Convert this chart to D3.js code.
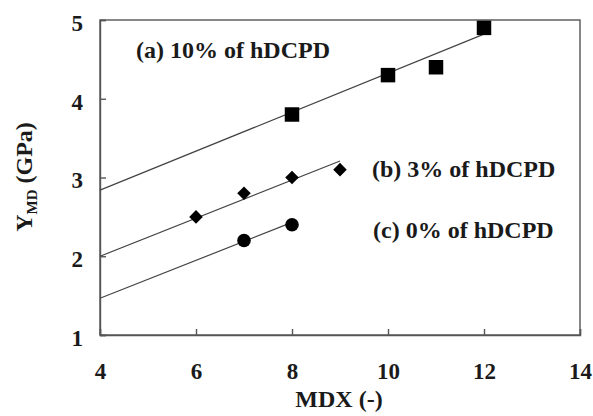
<!DOCTYPE html>
<html>
<head>
<meta charset="utf-8">
<script src="https://cdn.jsdelivr.net/npm/d3@7"></script>
<style>
  html, body { margin: 0; padding: 0; background: #fff; }
  svg text { font-family: "Liberation Serif", "Times New Roman", serif; font-weight: bold; fill: #1a1a1a; }
</style>
</head>
<body>
<svg id="chart" width="593" height="416"></svg>
<script>
// Series data: MDX vs machine-direction modulus (GPa)
const mdxA = [8, 10, 11, 12];
const ymdA = [3.8, 4.3, 4.4, 4.9];
const mdxB = [6, 7, 8, 9];
const ymdB = [2.5, 2.8, 3.0, 3.1];
const mdxC = [7, 8];
const ymdC = [2.2, 2.4];

// Trend lines: [x0, y0, x1, y1]
const trendA = [4, 2.84, 12, 4.82];
const trendB = [4, 2.0, 9, 3.21];
const trendC = [4, 1.466, 8, 2.43];

const labelA = "(a) 10% of hDCPD";
const labelB = "(b) 3% of hDCPD";
const labelC = "(c) 0% of hDCPD";

const xTicks = [4, 6, 8, 10, 12, 14];
const yTicks = [1, 2, 3, 4, 5];

const svg = d3.select("#chart");
const plotL = 100, plotR = 580, plotT = 20, plotB = 335;

const x = d3.scaleLinear().domain([4, 14]).range([plotL, plotR]);
const y = d3.scaleLinear().domain([1, 5]).range([plotB, plotT]);

const axisColor = "#555";

// Frame
svg.append("rect")
  .attr("x", plotL).attr("y", plotT)
  .attr("width", plotR - plotL).attr("height", plotB - plotT)
  .attr("fill", "none").attr("stroke", axisColor).attr("stroke-width", 1.4);

// Axes with inward ticks
const xAxis = svg.append("g").attr("transform", `translate(0,${plotB})`)
  .call(d3.axisBottom(x).tickValues(xTicks).tickSize(-6).tickPadding(28).tickFormat(d3.format("d")));
const yAxis = svg.append("g").attr("transform", `translate(${plotL},0)`)
  .call(d3.axisLeft(y).tickValues(yTicks).tickSize(-6).tickPadding(17).tickFormat(d3.format("d")));

[xAxis, yAxis].forEach(g => {
  g.select(".domain").attr("stroke", axisColor).attr("stroke-width", 1.4);
  g.selectAll(".tick line").attr("stroke", axisColor).attr("stroke-width", 1.4);
  g.selectAll(".tick text")
    .attr("font-family", "Liberation Serif, Times New Roman, serif")
    .attr("font-weight", "bold").attr("font-size", 23).attr("fill", "#1a1a1a");
});
yAxis.selectAll(".tick text").attr("dy", "0.45em");

// Trend lines
const lineGroup = svg.append("g");
[trendA, trendB, trendC].forEach(t => {
  lineGroup.append("line")
    .attr("x1", x(t[0])).attr("y1", y(t[1]))
    .attr("x2", x(t[2])).attr("y2", y(t[3]))
    .attr("stroke", "#444").attr("stroke-width", 1.2);
});

// Markers
const sq = d3.symbol().type(d3.symbolSquare).size(210);
const dia = d3.symbol().type(d3.symbolSquare).size(92);
const circ = d3.symbol().type(d3.symbolCircle).size(145);

function drawSeries(xs, ys, sym, rot) {
  svg.append("g").selectAll("path")
    .data(xs.map((v, i) => [v, ys[i]]))
    .join("path")
    .attr("d", sym)
    .attr("transform", d => `translate(${x(d[0])},${y(d[1])}) rotate(${rot})`)
    .attr("fill", "#000");
}
drawSeries(mdxA, ymdA, sq, 0);
drawSeries(mdxB, ymdB, dia, 45);
drawSeries(mdxC, ymdC, circ, 0);

// Series labels
svg.append("text").attr("x", 136).attr("y", 58).attr("font-size", 24).text(labelA);
svg.append("text").attr("x", 372).attr("y", 177).attr("font-size", 24).text(labelB);
svg.append("text").attr("x", 373).attr("y", 238).attr("font-size", 24).text(labelC);

// Axis titles
svg.append("text").attr("x", 339).attr("y", 407).attr("text-anchor", "middle")
  .attr("font-size", 24).text("MDX (-)");

const yt = svg.append("text")
  .attr("transform", "translate(32,177) rotate(-90)")
  .attr("text-anchor", "middle").attr("font-size", 24);
yt.append("tspan").text("Y");
yt.append("tspan").attr("font-size", 15).attr("dy", 5).text("MD");
yt.append("tspan").attr("dy", -5).text(" (GPa)");
</script>
</body>
</html>
